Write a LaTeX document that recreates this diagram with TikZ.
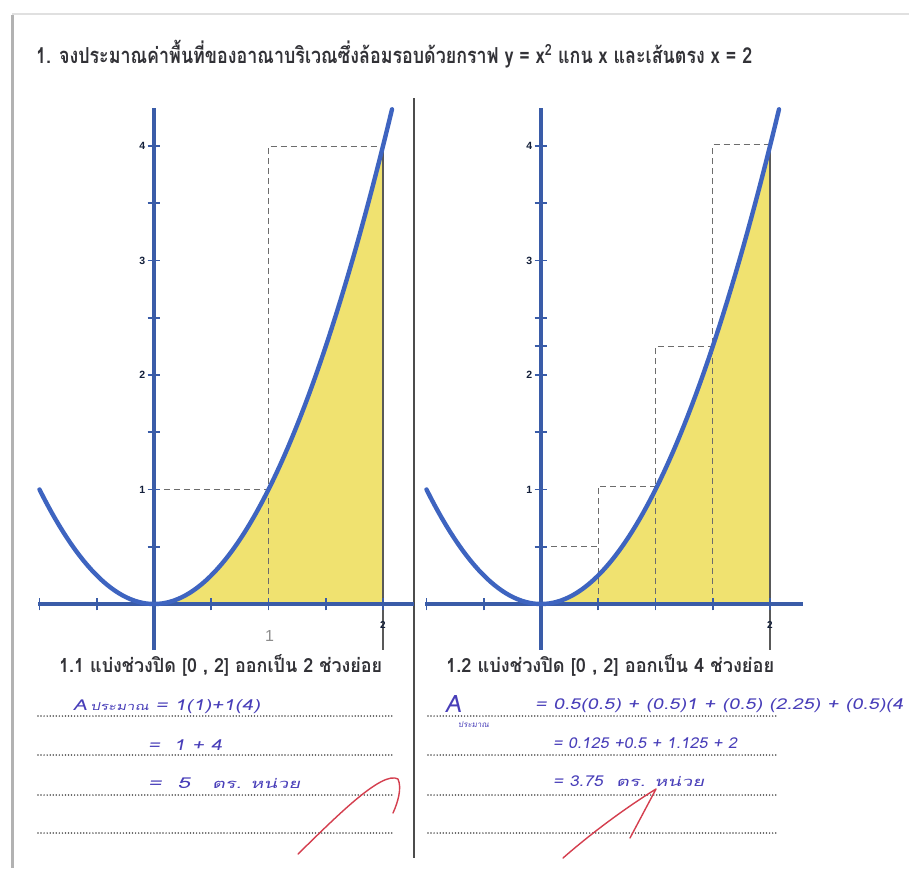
\documentclass[tikz,border=0pt]{standalone}
\usepackage{fontspec}
\usepackage{graphicx}
\newfontfamily\thai[Script=Thai]{Loma}
\newfontfamily\thaihand[Script=Thai,FakeSlant=0.15]{Loma}
\newfontfamily\arialf{Liberation Sans}
\definecolor{axisblue}{RGB}{58,92,168}
\definecolor{curveblue}{RGB}{62,100,192}
\definecolor{fillyel}{RGB}{240,226,112}
\definecolor{inkblue}{RGB}{72,62,185}
\definecolor{inkred}{RGB}{212,62,78}
\definecolor{printgray}{RGB}{50,50,55}
\tikzset{
  axisline/.style={draw=axisblue, line width=3.6pt},
  curveline/.style={draw=curveblue, line width=4.4pt, line cap=round},
  tickmark/.style={draw=axisblue, line width=1.8pt},
  guide/.style={draw=gray!85!black, line width=0.9pt, dash pattern=on 6pt off 4pt},
  edgeline/.style={draw=black!65, line width=1.1pt},
  ylab/.style={font=\arialf\bfseries\fontsize{10.5}{12}\selectfont, text=black!65!axisblue, inner sep=0pt, anchor=east},
  dotline/.style={draw=black!70, line width=1.7pt, line cap=round, dash pattern=on 0pt off 3.05pt},
  printtxt/.style={inner sep=0pt, anchor=base west, text=printgray},
  hand/.style={inner sep=0pt, anchor=base west, text=inkblue, font=\thaihand\fontsize{15}{18}\selectfont},
  check/.style={draw=inkred, line width=1.4pt, line cap=round, line join=round}
}
\begin{document}
\begin{tikzpicture}[x=1pt,y=-1pt]
\useasboundingbox (0,0) rectangle (909,868);
\fill[white] (0,0) rectangle (909,868);
% page edges
\draw[draw=black!30, line width=3pt] (12,15) -- (12,868);
\draw[draw=black!12, line width=2pt] (12,14) -- (909,14);

% title
\node[printtxt] (title) at (36,63) {\resizebox{716pt}{\height}{\thai\bfseries\fontsize{22}{26}\selectfont 1. จงประมาณค่าพื้นที่ของอาณาบริเวณซึ่งล้อมรอบด้วยกราฟ y = x\textsuperscript{2} แกน x และเส้นตรง x = 2}};

% divider
\draw[draw=black!70, line width=1.4pt] (414,98) -- (414,858);

% left graph
\begin{scope}[shift={(154,604)}, x=114.5pt, y=114.5pt]
  \fill[fillyel] (0,0) -- plot[domain=0:2,samples=50] (\x,{\x*\x}) -- (2,0) -- cycle;
  \draw[guide] (0,1) -- (1,1) (1,0) -- (1,4) -- (2,4);
  \draw[edgeline] (2,4) -- (2,-0.4);
  \draw[axisline] (-1.01,0) -- (2.27,0);
  \draw[axisline] (0,-0.4) -- (0,4.33);
  \foreach \t in {-1,-0.5,0.5,1,1.5,2} \draw[tickmark] (\t,-0.055) -- (\t,0.055);
  \foreach \t in {0.5,1,...,4} \draw[tickmark] (-0.055,\t) -- (0.055,\t);
  \draw[curveline] plot[domain=-1:2.08,samples=90] (\x,{\x*\x});
  \foreach \t in {1,2,3,4} \node[ylab] (La\t) at (-0.075,\t) {\t};
  \node[font=\arialf\fontsize{16}{18}\selectfont, text=black!45, inner sep=0pt] (Lx1) at (1.01,-0.28) {1};
  \node[font=\arialf\bfseries\fontsize{10}{12}\selectfont, text=black!65!axisblue, inner sep=0pt] (Lx2) at (2,-0.18) {2};
\end{scope}

% right graph
\begin{scope}[shift={(541,604)}, x=114.5pt, y=114.5pt]
  \fill[fillyel] (0,0) -- plot[domain=0:2,samples=50] (\x,{\x*\x}) -- (2,0) -- cycle;
  \draw[guide] (0,0.5) -- (0.5,0.5) (0.5,0) -- (0.5,1.03) -- (1,1.03)
               (1,0) -- (1,2.25) -- (1.5,2.25) (1.5,0) -- (1.5,4.01) -- (2,4.01);
  \draw[edgeline] (2,4) -- (2,-0.4);
  \draw[axisline] (-1.01,0) -- (2.29,0);
  \draw[axisline] (0,-0.4) -- (0,4.33);
  \foreach \t in {-1,-0.5,0.5,1,1.5,2} \draw[tickmark] (\t,-0.055) -- (\t,0.055);
  \foreach \t in {0.5,1,...,4,2.25} \draw[tickmark] (-0.055,\t) -- (0.055,\t);
  \draw[curveline] plot[domain=-1:2.08,samples=90] (\x,{\x*\x});
  \foreach \t in {1,2,3,4} \node[ylab] (Ra\t) at (-0.075,\t) {\t};
  \node[font=\arialf\bfseries\fontsize{10}{12}\selectfont, text=black!65!axisblue, inner sep=0pt] (Rx2) at (2,-0.18) {2};
\end{scope}

% subtitles
\node[printtxt] (sub1) at (59,672) {\resizebox{323pt}{\height}{\thai\bfseries\fontsize{19.5}{22}\selectfont 1.1 แบ่งช่วงปิด [0 , 2] ออกเป็น 2 ช่วงย่อย}};
\node[printtxt] (sub2) at (446,672) {\resizebox{328pt}{\height}{\thai\bfseries\fontsize{19.5}{22}\selectfont 1.2 แบ่งช่วงปิด [0 , 2] ออกเป็น 4 ช่วงย่อย}};

% dotted answer lines
\foreach \yy in {716,755,795,833} {
  \draw[dotline] (38,\yy) -- (392,\yy);
  \draw[dotline] (428,\yy) -- (778,\yy);
}

% handwriting left
\node[hand] (h1) at (73,710) {\resizebox{187pt}{\height}{A\,{\fontsize{11}{12}\selectfont ประมาณ} = 1(1)+1(4)}};
\node[hand] (h2) at (148,750) {\resizebox{74pt}{\height}{=\ \ 1 + 4}};
\node[hand] (h3) at (148,788) {\resizebox{42pt}{\height}{=\ \ 5}};
\node[hand] (h4) at (212,788) {\resizebox{88pt}{\height}{{\fontsize{13}{15}\selectfont ตร. หน่วย}}};

% handwriting right
\node[hand, font=\thaihand\fontsize{24}{26}\selectfont] (rA) at (445,712) {A};
\node[hand, font=\thaihand\fontsize{8}{9}\selectfont] (rAs) at (458,727) {ประมาณ};
\node[hand] (r1) at (535,709) {\resizebox{368pt}{\height}{= 0.5(0.5) + (0.5)1 + (0.5) (2.25) + (0.5)(4}};
\node[hand] (r2) at (553,748) {\resizebox{184pt}{\height}{= 0.125 +0.5 + 1.125 + 2}};
\node[hand] (r3) at (553,786) {\resizebox{50pt}{\height}{= 3.75}};
\node[hand] (r4) at (616,786) {\resizebox{88pt}{\height}{{\fontsize{13}{15}\selectfont ตร. หน่วย}}};

% red check marks
\coordinate (c1s) at (298,854);
\coordinate (c1t) at (398,779);
\coordinate (c1e) at (393,813);
\draw[check] (c1s) .. controls (335,818) and (382,770) .. (c1t) .. controls (402,788) and (398,802) .. (c1e);
\coordinate (c2s) at (563,858);
\coordinate (c2t) at (656,789);
\coordinate (c2e) at (630,838);
\draw[check] (c2s) .. controls (595,830) and (630,805) .. (c2t) -- (c2e);
\end{tikzpicture}
\end{document}
